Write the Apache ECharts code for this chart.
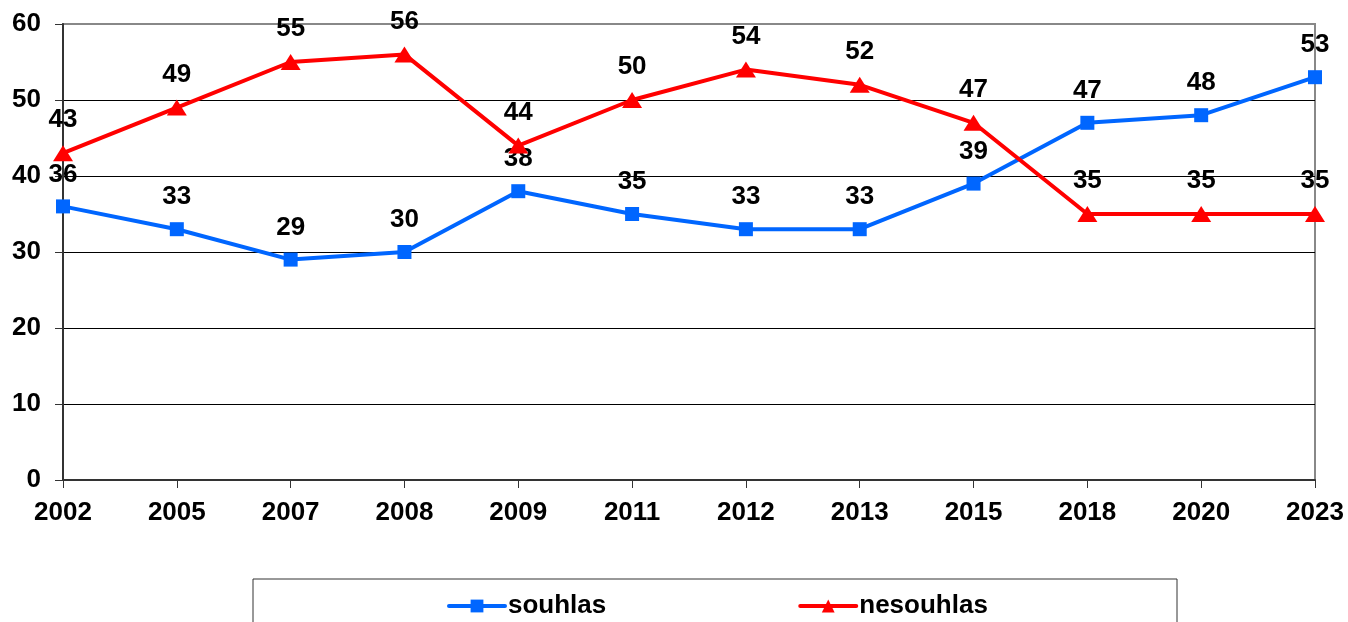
<!DOCTYPE html>
<html>
<head>
<meta charset="utf-8">
<script src="https://cdn.jsdelivr.net/npm/echarts@6/dist/echarts.min.js"></script>
<style>
  html, body { margin: 0; padding: 0; background: #fff; }
  #chart { width: 1348px; height: 622px; }
</style>
</head>
<body>
<div id="chart"></div>
<script>
// roky a hodnoty z grafu
var years = ["2002", "2005", "2007", "2008", "2009", "2011", "2012", "2013", "2015", "2018", "2020", "2023"];
var souhlas = [36, 33, 29, 30, 38, 35, 33, 33, 39, 47, 48, 53];
var nesouhlas = [43, 49, 55, 56, 44, 50, 54, 52, 47, 35, 35, 35];

var font = "'Liberation Sans', Arial, sans-serif";

var myChart = echarts.init(document.getElementById("chart"));

var labelStyle = {
  show: true,
  position: "top",
  distance: 12,
  color: "#000",
  fontFamily: font,
  fontWeight: "bold",
  fontSize: 26
};

var option = {
  animation: false,
  grid: {
    left: 63,
    right: 33,
    top: 24,
    bottom: 142,
    show: true,
    borderColor: "#888",
    borderWidth: 2
  },
  graphic: [
    {
      type: "rect",
      shape: { x: 253, y: 579, width: 924, height: 80 },
      style: { fill: "none", stroke: "#333", lineWidth: 1 },
      z: -1
    }
  ],
  legend: {
    left: 447,
    top: 593,
    padding: 0,
    itemGap: 192,
    itemWidth: 56,
    itemHeight: 16,
    lineStyle: { width: 4, cap: "round" },
    textStyle: {
      color: "#000",
      fontFamily: font,
      fontWeight: "bold",
      fontSize: 26,
      padding: [0, 0, 0, -2]
    },
    data: ["souhlas", "nesouhlas"]
  },
  xAxis: {
    type: "category",
    boundaryGap: false,
    data: years,
    axisLine: { show: true, lineStyle: { color: "#333", width: 2 } },
    axisTick: { show: true, length: 8, alignWithLabel: true, lineStyle: { color: "#333", width: 1 } },
    axisLabel: {
      margin: 20,
      color: "#000",
      fontFamily: font,
      fontWeight: "bold",
      fontSize: 26
    },
    splitLine: { show: false }
  },
  yAxis: {
    type: "value",
    min: 0,
    max: 60,
    interval: 10,
    axisLine: { show: true, lineStyle: { color: "#333", width: 2 } },
    axisTick: { show: true, length: 8, lineStyle: { color: "#333", width: 1 } },
    axisLabel: {
      margin: 22,
      color: "#000",
      fontFamily: font,
      fontWeight: "bold",
      fontSize: 26
    },
    splitLine: { show: true, showMaxLine: false, lineStyle: { color: "#000", width: 1 } }
  },
  series: [
    {
      name: "souhlas",
      type: "line",
      data: souhlas,
      symbol: "rect",
      symbolSize: 14,
      lineStyle: { color: "#0066ff", width: 4 },
      itemStyle: { color: "#0066ff" },
      label: labelStyle,
      z: 3
    },
    {
      name: "nesouhlas",
      type: "line",
      data: nesouhlas,
      symbol: "triangle",
      symbolSize: [20, 16],
      lineStyle: { color: "#ff0000", width: 4 },
      itemStyle: { color: "#ff0000" },
      label: labelStyle,
      z: 4
    }
  ]
};

myChart.setOption(option);
</script>
</body>
</html>
